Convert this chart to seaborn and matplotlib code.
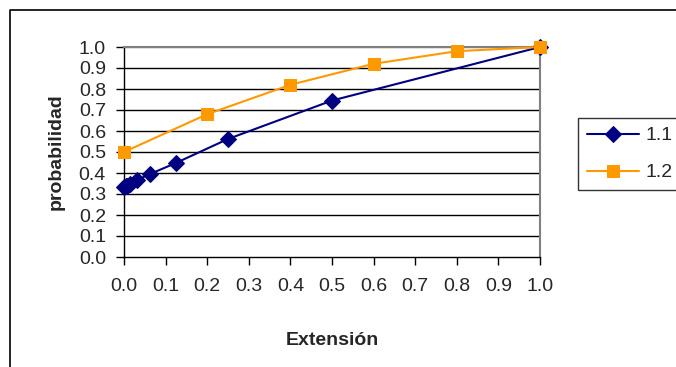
import matplotlib
matplotlib.use("Agg")
import matplotlib.pyplot as plt
import seaborn as sns
import pandas as pd
from matplotlib.lines import Line2D

# Data
x_11 = [0.0, 0.0039, 0.0078, 0.0156, 0.03125, 0.0625, 0.125, 0.25, 0.5, 1.0]
y_11 = [0.333, 0.336, 0.340, 0.348, 0.367, 0.395, 0.448, 0.562, 0.745, 1.0]
x_12 = [0.0, 0.2, 0.4, 0.6, 0.8, 1.0]
y_12 = [0.50, 0.68, 0.82, 0.92, 0.98, 1.0]
series_names = ["1.1", "1.2"]
ticks = [0.0, 0.1, 0.2, 0.3, 0.4, 0.5, 0.6, 0.7, 0.8, 0.9, 1.0]
tick_labels = ["0.0", "0.1", "0.2", "0.3", "0.4", "0.5", "0.6", "0.7", "0.8", "0.9", "1.0"]

sns.set_style("white")
plt.rcParams["font.family"] = ["Liberation Sans", "DejaVu Sans"]

W, H = 676, 367
fig = plt.figure(figsize=(W / 100, H / 100), dpi=100)
ax = fig.add_axes([124 / W, 1 - 257 / H, (540 - 124) / W, (257 - 47) / H])

df1 = pd.DataFrame({"x": x_11, "y": y_11})
df2 = pd.DataFrame({"x": x_12, "y": y_12})

for yv in ticks[1:]:
    ax.axhline(yv, color="black" if yv < 1.0 else "#808080", lw=1.0, zorder=1)

sns.lineplot(data=df1, x="x", y="y", ax=ax, color="#000080", marker="D",
             markersize=8.5, markeredgecolor="#000080", lw=1.5, estimator=None,
             sort=False, label=series_names[0], zorder=3, clip_on=False)
sns.lineplot(data=df2, x="x", y="y", ax=ax, color="#FF9900", marker="s",
             markersize=8, markeredgecolor="#FF9900", lw=1.5, estimator=None,
             sort=False, label=series_names[1], zorder=4, clip_on=False)

ax.set_xlim(0, 1)
ax.set_ylim(0, 1)
ax.set_xticks(ticks)
ax.set_xticklabels(tick_labels, fontsize=14)
ax.set_yticks(ticks)
ax.set_yticklabels(tick_labels, fontsize=14)
ax.tick_params(axis="both", direction="out", length=6, width=1, color="black",
               bottom=True, left=True)
ax.tick_params(axis="y", pad=7)
ax.tick_params(axis="x", pad=9)

for s in ["left", "bottom"]:
    ax.spines[s].set_color("black")
    ax.spines[s].set_linewidth(1.0)
for s in ["top", "right"]:
    ax.spines[s].set_color("#808080")
    ax.spines[s].set_linewidth(1.5)

ax.set_xlabel("Extensión", fontsize=14, fontweight="bold", labelpad=27)
ax.set_ylabel("probabilidad", fontsize=14, fontweight="bold", labelpad=10)

leg = ax.legend(loc="upper left", bbox_to_anchor=(578 / W, 1 - 118 / H),
                bbox_transform=fig.transFigure, frameon=True, fancybox=False,
                edgecolor="black", fontsize=14, handlelength=2.7,
                borderpad=0.45, labelspacing=1.0, handletextpad=0.3,
                borderaxespad=0)
leg.get_frame().set_linewidth(1.0)

# outer chart border
fig.add_artist(Line2D([9.5 / W, 9.5 / W, 1.0], [0.0, 1 - 9.5 / H, 1 - 9.5 / H],
                      transform=fig.transFigure, color="black", lw=1.2))

fig.savefig("out.png", dpi=100)
